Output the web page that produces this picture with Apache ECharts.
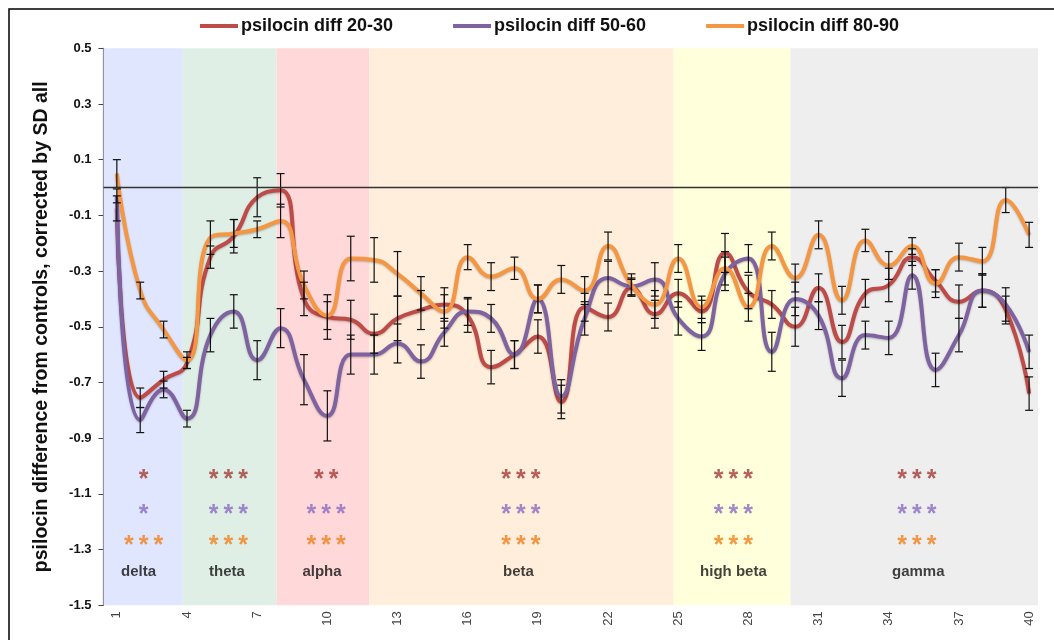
<!DOCTYPE html>
<html>
<head>
<meta charset="utf-8">
<script src="https://cdn.jsdelivr.net/npm/echarts@6.0.0/dist/echarts.min.js"></script>
<style>
html,body{margin:0;padding:0;background:#fff;}
#chart{width:1054px;height:640px;}
</style>
</head>
<body>
<div id="chart"></div>
<script>
// ---- data ----
const freqs = [1,2,3,4,5,6,7,8,9,10,11,12,13,14,15,16,17,18,19,20,21,22,23,24,25,26,27,28,29,30,31,32,33,34,35,36,37,38,39,40];
const seriesNames = ['psilocin diff 20-30', 'psilocin diff 50-60', 'psilocin diff 80-90'];
const diff2030 = [-0.075,-0.755,-0.69,-0.63,-0.25,-0.175,-0.035,-0.01,-0.40,-0.465,-0.475,-0.525,-0.47,-0.44,-0.42,-0.46,-0.645,-0.60,-0.535,-0.77,-0.43,-0.465,-0.36,-0.455,-0.38,-0.445,-0.235,-0.375,-0.42,-0.50,-0.36,-0.555,-0.38,-0.35,-0.25,-0.335,-0.41,-0.37,-0.44,-0.74];
const diff5060 = [-0.03,-0.835,-0.725,-0.83,-0.53,-0.445,-0.62,-0.505,-0.69,-0.82,-0.60,-0.60,-0.56,-0.625,-0.52,-0.445,-0.47,-0.60,-0.40,-0.75,-0.47,-0.325,-0.355,-0.33,-0.47,-0.535,-0.31,-0.255,-0.59,-0.40,-0.46,-0.685,-0.53,-0.54,-0.315,-0.655,-0.53,-0.37,-0.42,-0.59];
const diff8090 = [0.05,-0.37,-0.51,-0.62,-0.18,-0.165,-0.15,-0.12,-0.35,-0.46,-0.255,-0.26,-0.31,-0.38,-0.445,-0.25,-0.32,-0.29,-0.40,-0.33,-0.37,-0.21,-0.35,-0.42,-0.255,-0.43,-0.29,-0.43,-0.21,-0.325,-0.17,-0.405,-0.19,-0.28,-0.21,-0.345,-0.25,-0.265,-0.045,-0.17];
const err2030 = [0.045,0.035,0.03,0.02,0.04,0.06,0.07,0.06,0.06,0.08,0.07,0.07,0.08,0.07,0.06,0.06,0.06,0.05,0.06,0.06,0.05,0.05,0.03,0.05,0.05,0.04,0.07,0.06,0.05,0.07,0.05,0.06,0.05,0.06,0.03,0.04,0.06,0.06,0.05,0.06];
const err5060 = [0.025,0.045,0.03,0.03,0.06,0.06,0.07,0.07,0.09,0.09,0.07,0.07,0.07,0.06,0.05,0.05,0.05,0.05,0.05,0.06,0.06,0.06,0.03,0.06,0.06,0.05,0.06,0.05,0.07,0.06,0.05,0.065,0.05,0.06,0.05,0.06,0.06,0.06,0.06,0.06];
const err8090 = [0.05,0.03,0.03,0.03,0.06,0.05,0.03,0.06,0.05,0.05,0.08,0.08,0.08,0.06,0.06,0.045,0.05,0.04,0.05,0.05,0.05,0.05,0.04,0.05,0.05,0.04,0.06,0.05,0.05,0.05,0.05,0.05,0.04,0.05,0.03,0.05,0.05,0.05,0.045,0.045];

const xTickLabels = [1,4,7,10,13,16,19,22,25,28,31,34,37,40];
const yTickLabels = [-1.5,-1.3,-1.1,-0.9,-0.7,-0.5,-0.3,-0.1,0.1,0.3,0.5];

const bandNames = ['delta','theta','alpha','beta','high beta','gamma'];
const bandStart = [0.43,3.82,7.83,11.8,24.8,29.8];
const bandEnd   = [3.82,7.83,11.8,24.8,29.8,40.38];
const bandLabelX = [1.93,5.71,9.77,18.17,27.36,35.26];
const sigX = [2.145,5.765,9.95,18.27,27.36,35.2];
const sig2030 = ['*','***','**','***','***','***'];
const sig5060 = ['*','***','***','***','***','***'];
const sig8090 = ['***','***','***','***','***','***'];
const sigRowY = [-1.032,-1.158,-1.268];
const bandLabelY = -1.376;

// ---- styles ----
const lineColors = ['#BE4B48','#7F63A1','#F59642'];
const starColors = ['#A33A36','#8A6CC2','#F07F1A'];
const bandColors = ['#E0E6FE','#E0EFE6','#FFD9D9','#FEEEDB','#FFFFDB','#EEEEEE'];
const FONT = 'Liberation Sans, Arial, sans-serif';

const values = [diff2030, diff5060, diff8090];
const errs = [err2030, err5060, err8090];

function spaced(s){ return s.split('').join('\u2009'); }

const lineSeries = values.map((vals, k) => ({
  name: seriesNames[k],
  type: 'line',
  smooth: 0.5,
  symbol: 'none',
  z: 3,
  data: freqs.map((f,i) => [f, vals[i]]),
  lineStyle: {width: 4, color: lineColors[k], shadowBlur: 2, shadowColor: 'rgba(0,0,0,0.25)', shadowOffsetY: 1},
  itemStyle: {color: lineColors[k]}
}));

const errSeries = values.map((vals, k) => ({
  type: 'custom',
  z: 4,
  silent: true,
  data: freqs.map((f,i) => [f, vals[i], errs[k][i]]),
  renderItem: function(params, api){
    const x = api.value(0), y = api.value(1), e = api.value(2);
    const top = api.coord([x, y + e]);
    const bot = api.coord([x, y - e]);
    const hw = 4;
    const st = {stroke: '#111', lineWidth: 1.2};
    return {type:'group', children:[
      {type:'line', shape:{x1:top[0],y1:top[1],x2:bot[0],y2:bot[1]}, style:st},
      {type:'line', shape:{x1:top[0]-hw,y1:top[1],x2:top[0]+hw,y2:top[1]}, style:st},
      {type:'line', shape:{x1:bot[0]-hw,y1:bot[1],x2:bot[0]+hw,y2:bot[1]}, style:st}
    ]};
  }
}));

const annData = [];
[sig2030, sig5060, sig8090].forEach((row, r) => {
  row.forEach((txt, j) => {
    annData.push({value:[sigX[j], sigRowY[r]], txt: spaced(txt),
      label:{color: starColors[r], fontSize: 25, fontWeight:'bold', offset:[0,5]}});
  });
});
bandNames.forEach((nm, j) => {
  annData.push({value:[bandLabelX[j], bandLabelY], txt: nm,
    label:{color:'#111', fontSize: 15, fontWeight:'bold', offset:[0,1]}});
});

const option = {
  backgroundColor: '#fff',
  animation: false,
  textStyle: {fontFamily: FONT},
  graphic: [{type:'rect', shape:{x:9, y:9, width:1200, height:800}, style:{fill:'none', stroke:'#000', lineWidth:1.5}, silent:true, z:100}],
  legend: {
    data: seriesNames,
    left: 195, top: 12,
    icon: 'rect', itemWidth: 38, itemHeight: 4, itemGap: 60,
    textStyle: {fontSize: 18, fontWeight: 'bold', color: '#111', fontFamily: FONT, padding: [0, 0, 0, -2]}
  },
  grid: {left: 103.5, right: 16, top: 48.25, bottom: 34.75, containLabel: false},
  xAxis: {
    type: 'value', min: 0.43, max: 40.38,
    axisLine: {show: false}, axisTick: {show: false}, splitLine: {show: false},
    axisLabel: {customValues: xTickLabels, rotate: 90, margin: 6, fontSize: 13, color: '#444', fontFamily: FONT}
  },
  yAxis: {
    type: 'value', min: -1.5, max: 0.5,
    name: 'psilocin difference from controls, corrected by SD all',
    nameLocation: 'middle', nameGap: 52,
    nameTextStyle: {fontSize: 19.5, fontWeight: 'bold', color: '#111', fontFamily: FONT},
    axisLine: {show: true, lineStyle: {color: '#444', width: 1.2}},
    axisTick: {show: true, customValues: yTickLabels, length: 5, lineStyle: {color: '#444'}},
    axisLabel: {customValues: yTickLabels, margin: 12, fontSize: 13, fontWeight: 'bold', color: '#111', fontFamily: FONT,
      formatter: v => v.toFixed(1)},
    splitLine: {show: false}
  },
  series: [
    {
      type: 'line', data: [], z: 1, silent: true,
      markArea: {
        silent: true,
        data: bandNames.map((nm, j) => [
          {xAxis: bandStart[j], itemStyle: {color: bandColors[j]}},
          {xAxis: bandEnd[j]}
        ])
      },
      markLine: {
        silent: true, symbol: 'none',
        lineStyle: {color: '#333', width: 1.3, type: 'solid'},
        label: {show: false},
        data: [{yAxis: 0}]
      }
    },
    ...lineSeries,
    ...errSeries,
    {
      type: 'scatter', z: 5, silent: true, symbolSize: 0,
      data: annData,
      label: {show: true, position: 'inside', fontFamily: FONT,
        formatter: p => p.data.txt}
    }
  ]
};

const chart = echarts.init(document.getElementById('chart'), null, {renderer: 'canvas'});
chart.setOption(option);
</script>
</body>
</html>
